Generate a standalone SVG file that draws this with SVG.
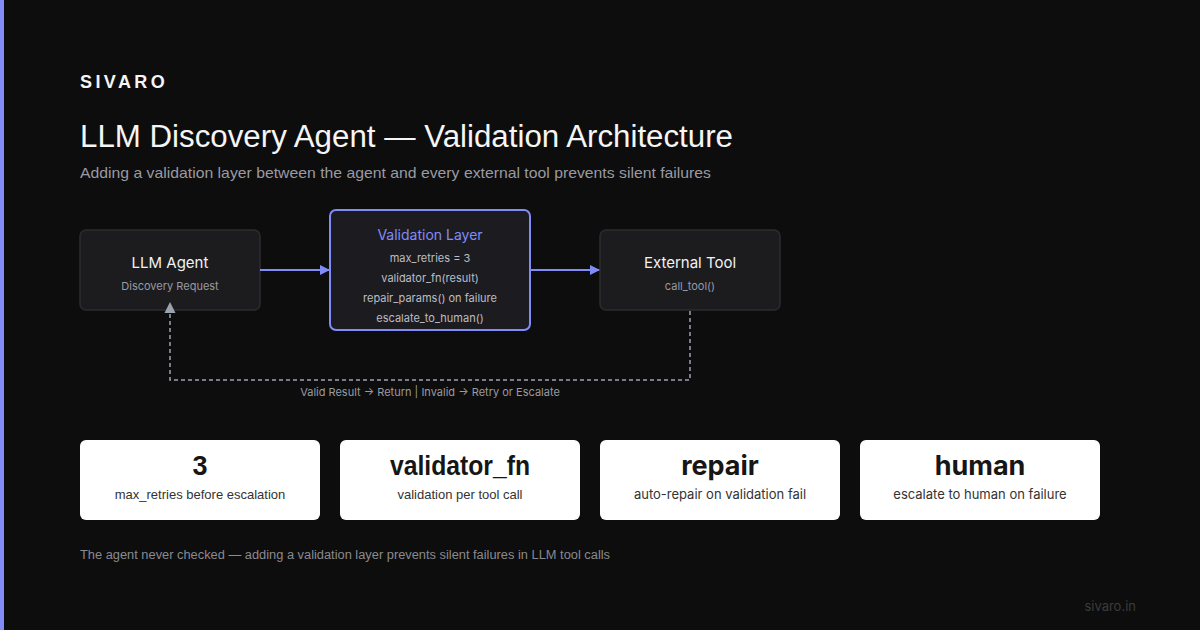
<svg xmlns="http://www.w3.org/2000/svg" width="1200" height="630" viewBox="0 0 1200 630">
<defs>
<style>
.sans{font-family:Inter,"Liberation Sans",sans-serif}
.head{font-family:"Liberation Sans",Arial,sans-serif}
.node{fill:#1c1c1f;stroke:#2c2c30;stroke-width:1.5}
.ntitle{fill:#f2f2f2;font-size:15px;text-anchor:middle}
.nsub{fill:#9a9aa2;font-size:11px;text-anchor:middle}
.vsub{fill:#bdbdc4;font-size:11px;text-anchor:middle}
.card{fill:#ffffff}
.big{fill:#161616;font-size:27px;font-weight:bold;text-anchor:middle}
.small{fill:#333;font-size:13px;text-anchor:middle}
</style>
<marker id="ah" viewBox="0 0 10 10" refX="9" refY="5" markerWidth="10" markerHeight="10" markerUnits="userSpaceOnUse" orient="auto"><path d="M0,0 L10,5 L0,10 z" fill="#818cf8"/></marker>
</defs>
<rect width="1200" height="630" fill="#0d0d0d"/>
<rect x="0" y="0" width="4" height="630" fill="#818cf8"/>
<text x="80" y="88" class="head" fill="#f5f5f5" font-size="18" font-weight="bold" letter-spacing="3.4">SIVARO</text>
<text x="80" y="147" class="head" fill="#f5f5f5" font-size="31" textLength="653" lengthAdjust="spacingAndGlyphs">LLM Discovery Agent — Validation Architecture</text>
<text x="80" y="178" class="head" fill="#9a9aa2" font-size="15" textLength="631" lengthAdjust="spacingAndGlyphs">Adding a validation layer between the agent and every external tool prevents silent failures</text>
<g id="llm-agent">
<rect x="80" y="230" width="180" height="80" rx="6" class="node"/>
<text x="170" y="268" class="sans ntitle">LLM Agent</text>
<text x="170" y="290" class="sans nsub">Discovery Request</text>
</g>
<g id="validation-layer">
<rect x="330" y="210" width="200" height="120" rx="6" fill="#1c1c20" stroke="#818cf8" stroke-width="2"/>
<text x="430" y="240" class="sans" fill="#818cf8" font-size="14" text-anchor="middle">Validation Layer</text>
<text x="430" y="262" class="sans vsub">max_retries = 3</text>
<text x="430" y="282" class="sans vsub">validator_fn(result)</text>
<text x="430" y="302" class="sans vsub">repair_params() on failure</text>
<text x="430" y="322" class="sans vsub">escalate_to_human()</text>
</g>
<g id="external-tool">
<rect x="600" y="230" width="180" height="80" rx="6" class="node"/>
<text x="690" y="268" class="sans ntitle">External Tool</text>
<text x="690" y="290" class="sans nsub">call_tool()</text>
</g>
<g id="connectors" fill="none">
<line x1="260" y1="270" x2="329" y2="270" stroke="#818cf8" stroke-width="2" marker-end="url(#ah)"/>
<line x1="530" y1="270" x2="599" y2="270" stroke="#818cf8" stroke-width="2" marker-end="url(#ah)"/>
<path d="M690,311 V380 H170 V312" stroke="#9ca3af" stroke-width="1.5" stroke-dasharray="4 3"/>
<polygon points="170,302 175.5,313 164.5,313" fill="#9ca3af"/>
<text x="430" y="396" class="sans" fill="#9a9aa2" font-size="11" text-anchor="middle">Valid Result → Return | Invalid → Retry or Escalate</text>
</g>
<g id="stat-retries">
<rect x="80" y="440" width="240" height="80" rx="6" class="card"/>
<text x="200" y="475" class="head big">3</text>
<text x="200" y="499" class="head small">max_retries before escalation</text>
</g>
<g id="stat-validator">
<rect x="340" y="440" width="240" height="80" rx="6" class="card"/>
<text x="460" y="475" class="head big" textLength="140" lengthAdjust="spacingAndGlyphs">validator_fn</text>
<text x="460" y="499" class="head small">validation per tool call</text>
</g>
<g id="stat-repair">
<rect x="600" y="440" width="240" height="80" rx="6" class="card"/>
<text x="720" y="475" class="sans big">repair</text>
<text x="720" y="499" class="sans small">auto-repair on validation fail</text>
</g>
<g id="stat-human">
<rect x="860" y="440" width="240" height="80" rx="6" class="card"/>
<text x="980" y="475" class="sans big">human</text>
<text x="980" y="499" class="sans small">escalate to human on failure</text>
</g>
<text x="80" y="559" class="head" fill="#8a8a90" font-size="12.5" textLength="530" lengthAdjust="spacingAndGlyphs">The agent never checked — adding a validation layer prevents silent failures in LLM tool calls</text>
<text x="1136" y="611" class="sans" fill="#3c3c3c" font-size="13" text-anchor="end">sivaro.in</text>
</svg>
